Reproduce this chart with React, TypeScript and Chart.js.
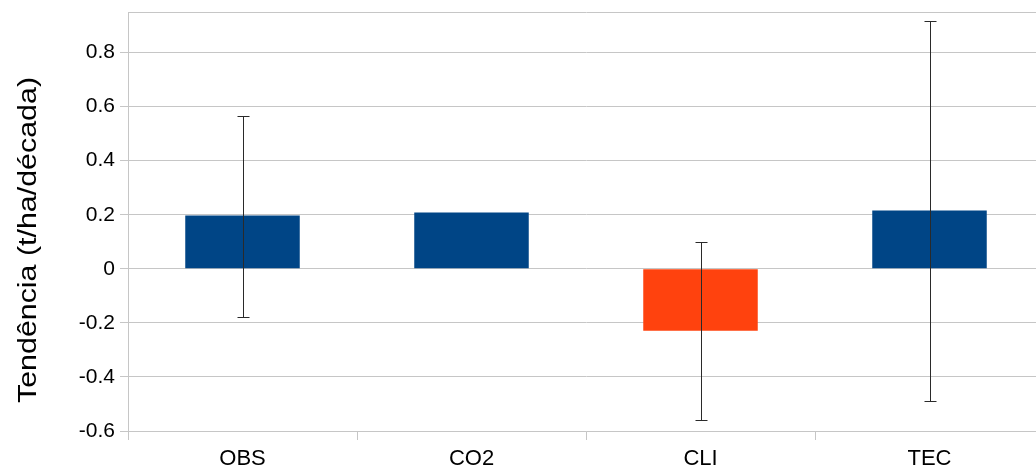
import React, { useEffect, useRef } from "react";
import { Chart, registerables } from "chart.js";

Chart.register(...registerables);

const categories = ["OBS", "CO2", "CLI", "TEC"];
const trendValues = [0.197, 0.208, -0.229, 0.216];
const errorLow: (number | null)[] = [-0.177, null, -0.558, -0.489];
const errorHigh: (number | null)[] = [0.565, null, 0.1, 0.917];
const barColors = ["#004586", "#004586", "#ff420e", "#004586"];
const yTickValues = [-0.6, -0.4, -0.2, 0, 0.2, 0.4, 0.6, 0.8];
const yMin = -0.6;
const yMax = 0.95;
const yTitle = "Tendência (t/ha/década)";

const FONT = "'Liberation Sans', Arial, sans-serif";
const GRID = "#c6c6c6";

const errorBarPlugin = {
  id: "errorBars",
  afterDatasetsDraw(chart: any) {
    const meta = chart.getDatasetMeta(0);
    const ys = chart.scales.y;
    const ctx = chart.ctx;
    ctx.save();
    ctx.strokeStyle = "#2a2a2a";
    ctx.lineWidth = 1;
    for (let i = 0; i < categories.length; i++) {
      const lo = errorLow[i];
      const hi = errorHigh[i];
      if (lo == null || hi == null) continue;
      const x = Math.round(meta.data[i].x) + 0.5;
      const yl = Math.round(ys.getPixelForValue(lo)) + 0.5;
      const yh = Math.round(ys.getPixelForValue(hi)) + 0.5;
      ctx.beginPath();
      ctx.moveTo(x, yl);
      ctx.lineTo(x, yh);
      ctx.moveTo(x - 6, yl);
      ctx.lineTo(x + 6, yl);
      ctx.moveTo(x - 6, yh);
      ctx.lineTo(x + 6, yh);
      ctx.stroke();
    }
    ctx.restore();
  },
};

const titlePlugin = {
  id: "yTitle",
  afterDraw(chart: any) {
    const ctx = chart.ctx;
    ctx.save();
    ctx.font = `25px ${FONT}`;
    ctx.fillStyle = "#000";
    ctx.textAlign = "center";
    ctx.textBaseline = "middle";
    const w = ctx.measureText(yTitle).width;
    const sx = 326 / w;
    ctx.translate(29, 240);
    ctx.rotate(-Math.PI / 2);
    ctx.scale(sx, 1);
    ctx.fillText(yTitle, 0, 0);
    ctx.restore();
  },
};

export default function App() {
  const ref = useRef<HTMLCanvasElement>(null);
  useEffect(() => {
    if (!ref.current) return;
    const chart = new Chart(ref.current, {
      type: "bar",
      data: {
        labels: categories,
        datasets: [
          {
            data: trendValues,
            backgroundColor: barColors,
            borderWidth: 0,
            categoryPercentage: 1,
            barPercentage: 0.5,
          },
        ],
      },
      options: {
        animation: false,
        responsive: false,
        layout: { padding: { left: 0, right: 16, top: 12, bottom: 0 } },
        plugins: {
          legend: { display: false },
          tooltip: { enabled: false },
        },
        scales: {
          x: {
            grid: {
              offset: true,
              drawOnChartArea: false,
              drawTicks: true,
              tickLength: 9,
              color: GRID,
            },
            border: { display: true, color: GRID },
            ticks: {
              color: "#000",
              padding: 6,
              font: { family: FONT, size: 22 },
              maxRotation: 0,
            },
            afterFit(scale: any) {
              scale.height = 40;
              scale.paddingLeft = 0;
              scale.paddingRight = 0;
            },
          },
          y: {
            min: yMin,
            max: yMax,
            afterBuildTicks(scale: any) {
              scale.ticks = [...yTickValues, yMax].map((v) => ({ value: v }));
            },
            grid: {
              color: GRID,
              tickLength: 8,
              tickColor: (c: any) => (c.tick && c.tick.value > 0.9 ? "rgba(0,0,0,0)" : GRID),
            },
            border: { display: true, color: GRID },
            ticks: {
              color: "#000",
              padding: 5,
              font: { family: FONT, size: 21 },
              callback: (v: any) => (v > 0.9 ? "" : String(Math.round(Number(v) * 10) / 10)),
            },
            afterFit(scale: any) {
              scale.width = 128;
              scale.paddingTop = 0;
              scale.paddingBottom = 0;
            },
          },
        },
      },
      plugins: [errorBarPlugin, titlePlugin],
    });
    return () => chart.destroy();
  }, []);
  return (
    <div
      style={{
        position: "fixed",
        left: 0,
        top: 0,
        width: 1036,
        height: 471,
        overflow: "hidden",
        background: "#fff",
      }}
    >
      <canvas ref={ref} width={1060} height={471} style={{ display: "block" }} />
    </div>
  );
}
